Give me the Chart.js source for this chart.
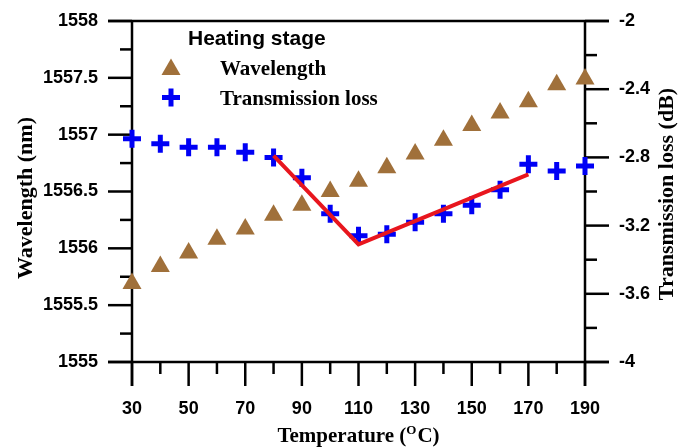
<!DOCTYPE html>
<html>
<head>
<meta charset="utf-8">
<script src="https://cdn.jsdelivr.net/npm/chart.js@4/dist/chart.umd.min.js"></script>
<style>
  html, body { margin: 0; padding: 0; background: #fff; }
  #wrap { width: 679px; height: 448px; }
</style>
</head>
<body>
<div id="wrap"><canvas id="chart" width="679" height="448"></canvas></div>
<script>
// Heating stage: peak wavelength and transmission loss vs temperature
const temperature = [30, 40, 50, 60, 70, 80, 90, 100, 110, 120, 130, 140, 150, 160, 170, 180, 190]
const wavelength = [1555.69, 1555.84, 1555.96, 1556.08, 1556.17, 1556.29, 1556.38, 1556.50, 1556.59,
  1556.71, 1556.83, 1556.95, 1557.08, 1557.19, 1557.29, 1557.44, 1557.49]
const transLoss = [-2.69, -2.72, -2.74, -2.74, -2.77, -2.80, -2.92, -3.13, -3.26,
  -3.25, -3.18, -3.13, -3.08, -2.99, -2.84, -2.88, -2.85]

// Two-segment linear fit of the loss curve
const fitTemp = [80, 110, 170]
const fitLoss = [-2.79, -3.31, -2.90]

// Tick positions
const tempTicks = [30, 50, 70, 90, 110, 130, 150, 170, 190]
const tempMinor = [40, 60, 80, 100, 120, 140, 160, 180]
const wlTicks = [1555, 1555.5, 1556, 1556.5, 1557, 1557.5, 1558]
const wlMinor = [1555.25, 1555.75, 1556.25, 1556.75, 1557.25, 1557.75]
const lossTicks = [-4, -3.6, -3.2, -2.8, -2.4, -2]
const lossMinor = [-3.8, -3.4, -3.0, -2.6, -2.2]

const BROWN = '#A0703A'
const BLUE = '#0000F5'
const RED = '#E8161E'
const SANS = '"Liberation Sans", Arial, sans-serif'
const SERIF = '"Liberation Serif", "Times New Roman", serif'

const MAJOR = 24
const MINOR = 12

// Origin-style frame: axis lines cross each other, ticks point outward
const framePlugin = {
  id: 'frame',
  beforeDatasetsDraw(chart) {
    const { ctx, chartArea: a, scales } = chart
    const line = (x1, y1, x2, y2) => {
      ctx.beginPath()
      ctx.moveTo(x1, y1)
      ctx.lineTo(x2, y2)
      ctx.stroke()
    }
    ctx.save()
    ctx.strokeStyle = '#000'
    ctx.lineWidth = 2.5
    line(a.left - MAJOR, a.top, a.right + MAJOR, a.top)
    line(a.left - MAJOR, a.bottom, a.right + MAJOR, a.bottom)
    line(a.left, a.top, a.left, a.bottom + MAJOR)
    line(a.right, a.top, a.right, a.bottom + MAJOR)

    tempTicks.forEach(v => { const x = scales.x.getPixelForValue(v); line(x, a.bottom, x, a.bottom + MAJOR) })
    tempMinor.forEach(v => { const x = scales.x.getPixelForValue(v); line(x, a.bottom, x, a.bottom + MINOR) })
    wlTicks.forEach(v => { const y = scales.y.getPixelForValue(v); line(a.left, y, a.left - MAJOR, y) })
    wlMinor.forEach(v => { const y = scales.y.getPixelForValue(v); line(a.left, y, a.left - MINOR, y) })
    lossTicks.forEach(v => { const y = scales.y1.getPixelForValue(v); line(a.right, y, a.right + MAJOR, y) })
    lossMinor.forEach(v => { const y = scales.y1.getPixelForValue(v); line(a.right, y, a.right + MINOR, y) })
    ctx.restore()
  },
  afterDraw(chart) {
    const { ctx, chartArea: a } = chart
    ctx.save()
    ctx.fillStyle = '#000'
    ctx.textBaseline = 'alphabetic'

    // x axis title with raised "O" in the degree unit
    const cx = (a.left + a.right) / 2
    const big = 'bold 21px ' + SERIF
    const small = 'bold 13px ' + SERIF
    ctx.font = big
    const w1 = ctx.measureText('Temperature (').width
    const w3 = ctx.measureText('C)').width
    ctx.font = small
    const w2 = ctx.measureText('O').width + 1
    let x = cx - (w1 + w2 + w3) / 2
    const base = 442
    ctx.textAlign = 'left'
    ctx.font = big
    ctx.fillText('Temperature (', x, base)
    ctx.font = small
    ctx.fillText('O', x + w1, base - 8)
    ctx.font = big
    ctx.fillText('C)', x + w1 + w2, base)

    // rotated y titles, both reading bottom to top
    ctx.textAlign = 'center'
    ctx.textBaseline = 'middle'
    ctx.font = 'bold 22px ' + SERIF
    ctx.save()
    ctx.translate(26, 198)
    ctx.rotate(-Math.PI / 2)
    ctx.fillText('Wavelength (nm)', 0, 0)
    ctx.restore()
    ctx.save()
    ctx.translate(667, 194)
    ctx.rotate(-Math.PI / 2)
    ctx.fillText('Transmission loss (dB)', 0, 0)
    ctx.restore()

    // legend
    ctx.textAlign = 'left'
    ctx.textBaseline = 'alphabetic'
    ctx.font = 'bold 21px ' + SANS
    ctx.fillText('Heating stage', 188, 45)
    ctx.font = 'bold 21px ' + SERIF
    ctx.fillText('Wavelength', 220, 75)
    ctx.fillText('Transmission loss', 220, 105)

    ctx.fillStyle = BROWN
    Chart.helpers.drawPoint(ctx, { pointStyle: 'triangle', radius: 11, borderWidth: 0, rotation: 0 }, 171, 69.5)
    ctx.strokeStyle = BLUE
    ctx.lineWidth = 5
    Chart.helpers.drawPoint(ctx, { pointStyle: 'cross', radius: 9, borderWidth: 5, rotation: 0 }, 171, 97.5)
    ctx.restore()
  }
}

const tickFont = { family: SANS, weight: 'bold', size: 18 }

// fixed scale boxes so the plot area lands where the frame expects it
const fitVertical = width => s => {
  s.width = width
  s.paddingTop = 0
  s.paddingBottom = 0
}

new Chart(document.getElementById('chart'), {
  type: 'scatter',
  data: {
    datasets: [{
      label: 'Fit',
      type: 'line',
      data: fitTemp.map((t, i) => ({ x: t, y: fitLoss[i] })),
      yAxisID: 'y1',
      borderColor: RED,
      borderWidth: 4,
      pointRadius: 0,
      fill: false,
      tension: 0,
      clip: false,
      order: 0
    }, {
      label: 'Transmission loss',
      data: temperature.map((t, i) => ({ x: t, y: transLoss[i] })),
      yAxisID: 'y1',
      pointStyle: 'cross',
      pointRadius: 9,
      pointBorderWidth: 5,
      borderColor: BLUE,
      backgroundColor: BLUE,
      clip: false,
      order: 1
    }, {
      label: 'Wavelength',
      data: temperature.map((t, i) => ({ x: t, y: wavelength[i] })),
      yAxisID: 'y',
      pointStyle: 'triangle',
      pointRadius: 11,
      pointBorderWidth: 0,
      borderColor: BROWN,
      backgroundColor: BROWN,
      clip: false,
      order: 2
    }]
  },
  options: {
    responsive: false,
    animation: false,
    events: [],
    layout: { padding: { top: 21, left: 0, right: 0, bottom: 0 } },
    plugins: {
      legend: { display: false },
      tooltip: { enabled: false },
      title: { display: false }
    },
    scales: {
      x: {
        type: 'linear',
        position: 'bottom',
        min: 30,
        max: 190,
        grid: { display: false, drawTicks: false },
        border: { display: false },
        afterBuildTicks: s => { s.ticks = tempTicks.map(v => ({ value: v })) },
        afterFit: s => {
          s.height = 86
          s.paddingLeft = 0
          s.paddingRight = 0
        },
        ticks: {
          font: tickFont,
          color: '#000',
          padding: 36,
          maxRotation: 0,
          autoSkip: false,
          callback: v => String(v)
        }
      },
      y: {
        type: 'linear',
        position: 'left',
        min: 1555,
        max: 1558,
        grid: { display: false, drawTicks: false },
        border: { display: false },
        afterBuildTicks: s => { s.ticks = wlTicks.map(v => ({ value: v })) },
        afterFit: fitVertical(132),
        ticks: {
          font: tickFont,
          color: '#000',
          padding: 34,
          autoSkip: false,
          callback: v => String(v)
        }
      },
      y1: {
        type: 'linear',
        position: 'right',
        min: -4,
        max: -2,
        grid: { display: false, drawTicks: false },
        border: { display: false },
        afterBuildTicks: s => { s.ticks = lossTicks.map(v => ({ value: v })) },
        afterFit: fitVertical(94),
        ticks: {
          font: tickFont,
          color: '#000',
          padding: 34,
          autoSkip: false,
          callback: v => String(v)
        }
      }
    }
  },
  plugins: [framePlugin]
})
</script>
</body>
</html>
